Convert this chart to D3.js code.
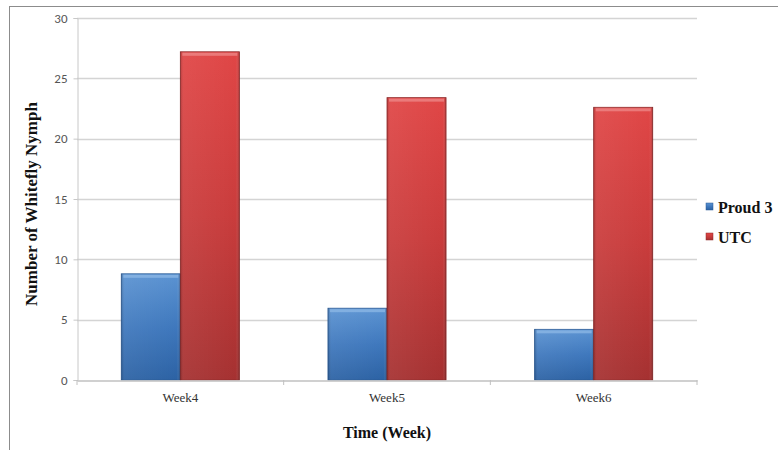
<!DOCTYPE html>
<html><head><meta charset="utf-8">
<script src="https://cdn.jsdelivr.net/npm/d3@7"></script>
<style>body{margin:0;background:#fff}svg{display:block}</style>
</head><body>
<svg id="c" width="778" height="450"></svg>
<script>
const categories = ["Week4", "Week5", "Week6"];
const seriesNames = ["Proud 3", "UTC"];
const proud3 = [8.8, 5.95, 4.2];
const utc = [27.2, 23.4, 22.6];
const yTicks = [0, 5, 10, 15, 20, 25, 30];

const SERIF = "'Liberation Serif', 'Times New Roman', serif";
const SANS = "Carlito, 'Liberation Sans', Arial, sans-serif";

const svg = d3.select("#c");
const m = {l: 77, r: 697, t: 18, b: 380};

const defs = svg.append("defs");
const cols = [
  {id: "gBlue", top: "#5b93d2", mid: "#3f78bd", bot: "#2c62a4", edge: "#2a5a95", hi: "#8db8e6"},
  {id: "gRed", top: "#e04646", mid: "#c93c3c", bot: "#a53131", edge: "#8f2a2a", hi: "#ee8a8a"}
];
cols.forEach(c => {
  const g = defs.append("linearGradient").attr("id", c.id).attr("x1", 0).attr("y1", 0).attr("x2", 0).attr("y2", 1);
  g.append("stop").attr("offset", "0%").attr("stop-color", c.top);
  g.append("stop").attr("offset", "50%").attr("stop-color", c.mid);
  g.append("stop").attr("offset", "100%").attr("stop-color", c.bot);
  const h = defs.append("linearGradient").attr("id", c.id + "h").attr("x1", 0).attr("y1", 0).attr("x2", 1).attr("y2", 0);
  h.append("stop").attr("offset", "0%").attr("stop-color", "#000").attr("stop-opacity", 0.18);
  h.append("stop").attr("offset", "6%").attr("stop-color", "#fff").attr("stop-opacity", 0.06);
  h.append("stop").attr("offset", "94%").attr("stop-color", "#fff").attr("stop-opacity", 0.0);
  h.append("stop").attr("offset", "100%").attr("stop-color", "#000").attr("stop-opacity", 0.22);
});

// outer frame
svg.append("rect").attr("x", 9.5).attr("y", 6.5).attr("width", 800).attr("height", 500)
  .attr("fill", "none").attr("stroke", "#8c8c8c").attr("stroke-width", 1);

const x0 = d3.scaleBand().domain(categories).range([m.l, m.r]).paddingInner(0).paddingOuter(0);
const y = d3.scaleLinear().domain([0, 30]).range([m.b, m.t]);
const barW = x0.bandwidth() / 3.5;
const x1 = d3.scaleBand().domain(seriesNames).range([0, barW * 2]);

// gridlines
svg.append("g").selectAll("line").data(yTicks.filter(d => d > 0)).join("line")
  .attr("x1", m.l).attr("x2", m.r).attr("y1", d => Math.round(y(d)) + 0.5).attr("y2", d => Math.round(y(d)) + 0.5)
  .attr("stroke", "#d4d4d4").attr("stroke-width", 1.3);

// y axis
const yAxis = d3.axisLeft(y).tickValues(yTicks).tickSize(4).tickPadding(6);
const gy = svg.append("g").attr("transform", `translate(${m.l + 0.5},0)`).call(yAxis)
  .attr("font-family", null).attr("font-size", null);
gy.select(".domain").attr("stroke", "#c8c8c8");
gy.selectAll(".tick line").attr("stroke", "#c8c8c8");
gy.selectAll(".tick text").style("font-family", SANS)
  .style("font-size", "13px").attr("fill", "#555");

// bars
const data = categories.map((c, i) => ({cat: c, vals: [
  {s: seriesNames[0], v: proud3[i], ci: 0},
  {s: seriesNames[1], v: utc[i], ci: 1}
]}));
const groups = svg.append("g").selectAll("g").data(data).join("g")
  .attr("transform", d => `translate(${x0(d.cat) + (x0.bandwidth() - barW * 2) / 2},0)`);
const bars = groups.selectAll("g").data(d => d.vals).join("g");
bars.append("rect")
  .attr("x", d => x1(d.s)).attr("y", d => y(d.v))
  .attr("width", x1.bandwidth()).attr("height", d => y(0) - y(d.v))
  .attr("fill", d => `url(#${cols[d.ci].id})`)
  .attr("stroke", d => cols[d.ci].edge).attr("stroke-width", 0.8);
bars.append("rect")
  .attr("x", d => x1(d.s)).attr("y", d => y(d.v))
  .attr("width", x1.bandwidth()).attr("height", d => y(0) - y(d.v))
  .attr("fill", d => `url(#${cols[d.ci].id}h)`);
bars.append("rect")
  .attr("x", d => x1(d.s) + 2).attr("y", d => y(d.v) + 1)
  .attr("width", x1.bandwidth() - 4).attr("height", 3)
  .attr("fill", d => cols[d.ci].hi).attr("opacity", 0.75);

// x axis
const xAxis = d3.axisBottom(x0).tickSize(0).tickPadding(12);
const gx = svg.append("g").attr("transform", `translate(0,${m.b + 0.5})`).call(xAxis)
  .attr("font-family", null).attr("font-size", null);
gx.select(".domain").attr("stroke", "#c0c0c0").attr("stroke-width", 1.3);
gx.selectAll(".tick text").style("font-family", SERIF)
  .style("font-size", "13px").attr("fill", "#333");
// category boundary ticks
svg.append("g").selectAll("line").data(d3.range(categories.length + 1)).join("line")
  .attr("x1", i => m.l + i * x0.bandwidth()).attr("x2", i => m.l + i * x0.bandwidth())
  .attr("y1", m.b).attr("y2", m.b + 5).attr("stroke", "#c0c0c0").attr("stroke-width", 1);

// axis titles
svg.append("text").attr("x", 387).attr("y", 438).attr("text-anchor", "middle")
  .style("font-family", SERIF).attr("font-weight", "bold")
  .style("font-size", "16px").attr("fill", "#111").text("Time (Week)");
svg.append("text").attr("transform", "translate(37,204) rotate(-90)").attr("text-anchor", "middle")
  .style("font-family", SERIF).attr("font-weight", "bold")
  .style("font-size", "17px").attr("fill", "#111").text("Number of Whitefly  Nymph");

// legend
const lg = svg.append("g").selectAll("g").data(seriesNames).join("g")
  .attr("transform", (d, i) => `translate(706,${207 + i * 30})`);
lg.append("rect").attr("x", 0).attr("y", -4).attr("width", 7).attr("height", 7)
  .attr("fill", (d, i) => `url(#${cols[i].id})`).attr("stroke", (d, i) => cols[i].edge).attr("stroke-width", 0.5);
lg.append("text").attr("x", 12).attr("y", 6)
  .style("font-family", SERIF).attr("font-weight", "bold")
  .style("font-size", "16px").attr("fill", "#111").text(d => d);
</script>
</body></html>
